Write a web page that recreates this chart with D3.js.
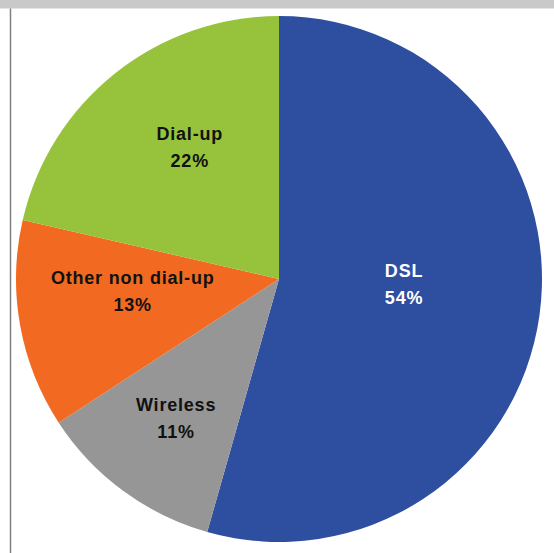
<!DOCTYPE html>
<html>
<head>
<meta charset="utf-8">
<script src="https://cdn.jsdelivr.net/npm/d3@7"></script>
<style>
  body { margin: 0; background: #fff; }
</style>
</head>
<body>
<div id="chart"></div>
<script>
// data (shares in %, clockwise from 12 o'clock)
const categories = ['DSL', 'Wireless', 'Other non dial-up', 'Dial-up'];
const shares = [54.4, 11.4, 12.8, 21.4];
const shareLabels = ['54%', '11%', '13%', '22%'];

const colors = ['#2e4e9f', '#969696', '#f26a21', '#97c23c'];
const labelColors = ['#ffffff', '#111111', '#111111', '#111111'];
// label placement: fraction of the radius, plus a small nudge like Excel does
const labelRadius = [0.48, 0.66, 0.565, 0.6];
const labelNudge = [[0, -12], [0, 0], [0, -14], [9, -8]];

const width = 554;
const height = 553;
const cx = 279;
const cy = 279;
const radius = 263;
const fontSize = 18;
const lineGap = 27;

const svg = d3.select('#chart')
    .append('svg')
    .attr('width', width)
    .attr('height', height);

// grey strip along the top and frame line on the left
svg.append('rect')
    .attr('x', 0)
    .attr('y', 0)
    .attr('width', width)
    .attr('height', 8.5)
    .attr('fill', '#c9c9c9');

svg.append('line')
    .attr('x1', 10.5)
    .attr('x2', 10.5)
    .attr('y1', 8.5)
    .attr('y2', height)
    .attr('stroke', '#7f7f7f')
    .attr('stroke-width', 1.5);

const data = categories.map((c, i) => ({ category: c, share: shares[i], label: shareLabels[i], i: i }));

const pieGen = d3.pie()
    .value(d => d.share)
    .sort(null);

const arcGen = d3.arc()
    .innerRadius(0)
    .outerRadius(radius);

const g = svg.append('g')
    .attr('transform', `translate(${cx},${cy})`);

const arcs = pieGen(data);

g.selectAll('path.slice')
    .data(arcs)
    .join('path')
    .attr('class', 'slice')
    .attr('d', arcGen)
    .attr('fill', d => colors[d.data.i]);

const labels = g.selectAll('text.lbl')
    .data(arcs)
    .join('text')
    .attr('class', 'lbl')
    .attr('transform', d => {
        const r = radius * labelRadius[d.data.i];
        const c = d3.arc().innerRadius(r).outerRadius(r).centroid(d);
        const n = labelNudge[d.data.i];
        return `translate(${c[0] + n[0]},${c[1] + n[1]})`;
    })
    .attr('text-anchor', 'middle')
    .style('font-family', 'Arial, "Liberation Sans", sans-serif')
    .style('font-weight', 'bold')
    .style('font-size', fontSize + 'px')
    .style('letter-spacing', '0.8px')
    .attr('fill', d => labelColors[d.data.i]);

labels.append('tspan')
    .attr('x', 0)
    .attr('y', -lineGap / 2 + 6)
    .text(d => d.data.category);

labels.append('tspan')
    .attr('x', 0)
    .attr('y', lineGap / 2 + 6)
    .text(d => d.data.label);
</script>
</body>
</html>
